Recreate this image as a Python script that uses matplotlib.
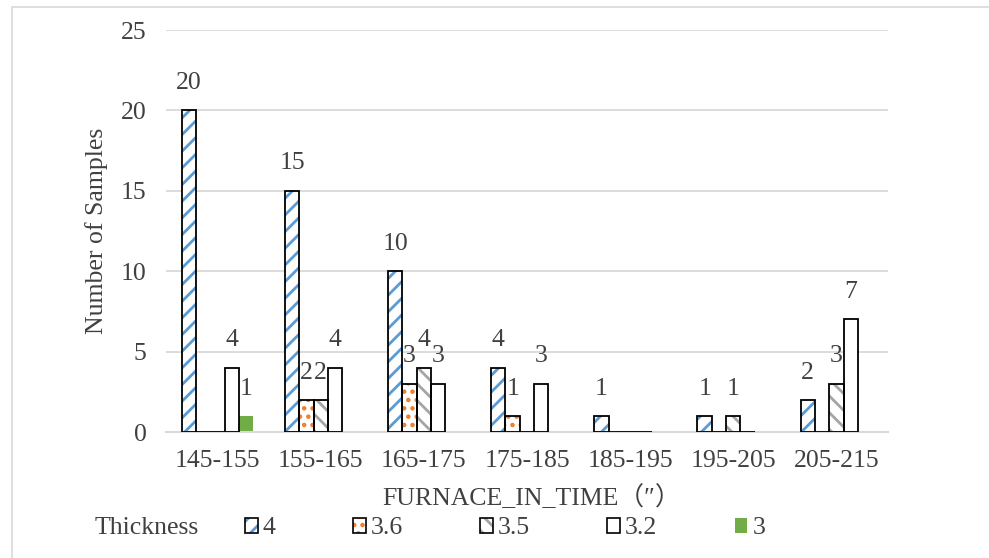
import numpy as np
import matplotlib.pyplot as plt
from matplotlib.patches import Patch
from matplotlib.legend_handler import HandlerTuple

plt.rcParams['font.family'] = ['Liberation Serif', 'Noto Sans CJK SC', 'DejaVu Sans']
plt.rcParams['hatch.linewidth'] = 2.0

# ----------------------------- data -----------------------------
categories = ['145-155', '155-165', '165-175', '175-185', '185-195', '195-205', '205-215']
thickness = ['4', '3.6', '3.5', '3.2', '3']
t_4 = [20, 15, 10, 4, 1, 1, 2]
t_36 = [0, 2, 3, 1, 0, 0, 0]
t_35 = [0, 2, 4, 0, 0, 1, 3]
t_32 = [4, 4, 3, 3, 0, 0, 7]
t_3 = [1, 0, 0, 0, 0, 0, 0]
series = [t_4, t_36, t_35, t_32, t_3]

# styles: face, hatch colour, hatch, black edge
styles = [
    dict(face='white', hcol='#5B9BD5', hatch='//', edge=True),
    dict(face='white', hcol='#F07C28', hatch='..', edge=True),
    dict(face='white', hcol='#A5A5A5', hatch='\\\\', edge=True),
    dict(face='white', hcol='white', hatch=None, edge=True),
    dict(face='#70AD47', hcol='#70AD47', hatch=None, edge=False),
]

txt = '#404040'
fs = 18.5
fig = plt.figure(figsize=(9.89, 5.58), dpi=100)
ax = fig.add_axes([0.1678, 0.2258, 0.7301, 0.7204])

x = np.arange(len(categories))
w = 0.139
for k, (vals, st) in enumerate(zip(series, styles)):
    pos = x + (k - 2) * w
    ax.bar(pos, vals, w, color=st['face'], edgecolor=st['hcol'], hatch=st['hatch'],
           linewidth=0, zorder=2)
    if st['edge']:
        ax.bar(pos, vals, w, fill=False, edgecolor='black', linewidth=1.3, zorder=3)
    for p, v in zip(pos, vals):
        if v > 0:
            ax.text(p, v + 1.7, str(v), ha='center', va='center', fontsize=fs, color=txt)

ax.set_xlim(-0.5, len(categories) - 0.5)
ax.set_ylim(0, 25)
ax.set_yticks(range(0, 26, 5))
ax.set_xticks(x)
ax.set_xticklabels(categories)
ax.tick_params(length=0, labelsize=fs, labelcolor=txt)
ax.tick_params(axis='x', pad=13)
ax.tick_params(axis='y', pad=14)
ax.grid(axis='y', color='#D9D9D9', linewidth=1.3, zorder=0)
ax.set_axisbelow(True)
for s in ['top', 'right', 'left']:
    ax.spines[s].set_visible(False)
ax.spines['bottom'].set_color('#D9D9D9')
ax.spines['bottom'].set_linewidth(1.5)

ax.set_ylabel('Number of Samples', fontsize=fs, color=txt, labelpad=9)
fig.text(0.538, 0.108, 'FURNACE_IN_TIME（″）', ha='center', va='center', fontsize=fs, color=txt)

# legend: hatched square with black outline on top
handles = []
for st in styles:
    fillp = Patch(facecolor=st['face'], edgecolor=st['hcol'], hatch=st['hatch'], linewidth=0)
    if st['edge']:
        handles.append((fillp, Patch(fill=False, edgecolor='black', linewidth=1.2)))
    else:
        handles.append(fillp)
fig.text(0.096, 0.053, 'Thickness', ha='left', va='center', fontsize=fs, color=txt)
leg = fig.legend(handles, thickness, loc='center left', bbox_to_anchor=(0.2345, 0.053), ncol=5,
                 frameon=False, fontsize=fs, handlelength=0.5, handleheight=0.5,
                 handletextpad=0.2, columnspacing=3.0, borderpad=0, labelcolor=txt,
                 handler_map={tuple: HandlerTuple(ndivide=1, pad=0)})

# outer border
fig.patches.append(plt.Rectangle((0.012, -0.1), 1.2, 1.087, transform=fig.transFigure,
                                 fill=False, edgecolor='#D9D9D9', linewidth=1.2))

fig.savefig('out.png', dpi=100)
